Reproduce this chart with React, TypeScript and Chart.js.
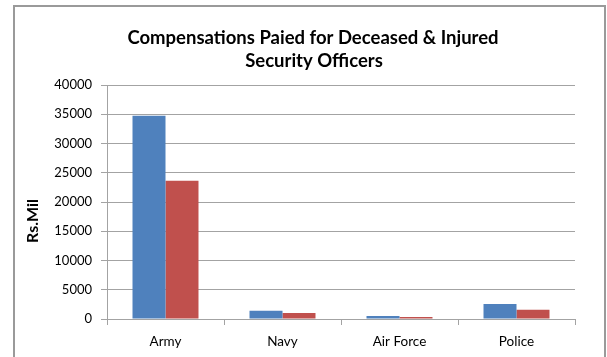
import { useEffect, useRef } from "react";
import { Chart, registerables } from "chart.js";

Chart.register(...registerables);

// Categories and compensation amounts (Rs. million)
const categories = ["Army", "Navy", "Air Force", "Police"];
const deceased = [34750, 1420, 510, 2560];
const injured = [23650, 1030, 340, 1590];
const titleLines = ["Compensations Paied for Deceased & Injured", "Security Officers"];
const yAxisTitle = "Rs.Mil";

const FONT = "Lato, 'Liberation Sans', sans-serif";
const GRID = "#a3a3a3";

const framePlugin = {
  id: "frame",
  beforeDraw(chart: any) {
    const { ctx } = chart;
    ctx.save();
    ctx.fillStyle = "#ffffff";
    ctx.fillRect(0, 0, chart.width, chart.height);
    ctx.strokeStyle = "#9a9a9a";
    ctx.lineWidth = 2;
    ctx.beginPath();
    ctx.moveTo(14, 400);
    ctx.lineTo(14, 6);
    ctx.lineTo(605, 6);
    ctx.lineTo(605, 400);
    ctx.stroke();
    ctx.restore();
  },
  afterDraw(chart: any) {
    const { ctx } = chart;
    ctx.save();
    ctx.fillStyle = "#000000";
    ctx.textAlign = "center";
    ctx.textBaseline = "alphabetic";
    ctx.font = `bold 18.5px ${FONT}`;
    ctx.fillText(titleLines[0], 313, 44);
    ctx.fillText(titleLines[1], 314, 67);
    ctx.translate(38, 221);
    ctx.rotate(-Math.PI / 2);
    ctx.font = `bold 16px ${FONT}`;
    ctx.fillText(yAxisTitle, 0, 0);
    ctx.restore();
  },
};

export default function App() {
  const ref = useRef<HTMLCanvasElement>(null);

  useEffect(() => {
    if (!ref.current) return;
    const chart = new Chart(ref.current, {
      type: "bar",
      data: {
        labels: categories,
        datasets: [
          { label: "Deceased", data: deceased, backgroundColor: "#4f81bd" },
          { label: "Injured", data: injured, backgroundColor: "#c0504d" },
        ],
      },
      options: {
        animation: false,
        responsive: false,
        devicePixelRatio: 1,
        layout: { padding: { left: 0, top: 85, right: 32, bottom: 0 } },
        datasets: { bar: { categoryPercentage: 0.564, barPercentage: 1 } },
        plugins: {
          legend: { display: false },
          title: { display: false },
          tooltip: { enabled: false },
        },
        scales: {
          x: {
            afterFit: (s: any) => {
              s.height = 38;
            },
            grid: {
              offset: true,
              drawOnChartArea: false,
              drawTicks: true,
              tickLength: 6,
              color: GRID,
            },
            border: { display: true, color: GRID },
            ticks: {
              color: "#000",
              font: { family: FONT, size: 13.5 },
              padding: 9,
              maxRotation: 0,
            },
          },
          y: {
            min: 0,
            max: 40000,
            afterFit: (s: any) => {
              s.width = 107;
            },
            grid: { color: GRID, tickLength: 6 },
            border: { display: true, color: GRID },
            ticks: {
              stepSize: 5000,
              color: "#000",
              font: { family: FONT, size: 13 },
              padding: 9,
              callback: (v: any) => String(v),
            },
          },
        },
      },
      plugins: [framePlugin],
    });
    return () => chart.destroy();
  }, []);

  return (
    <div style={{ position: "fixed", left: 0, top: 0, width: 607, height: 357 }}>
      <canvas ref={ref} width={607} height={357} style={{ display: "block" }} />
    </div>
  );
}
